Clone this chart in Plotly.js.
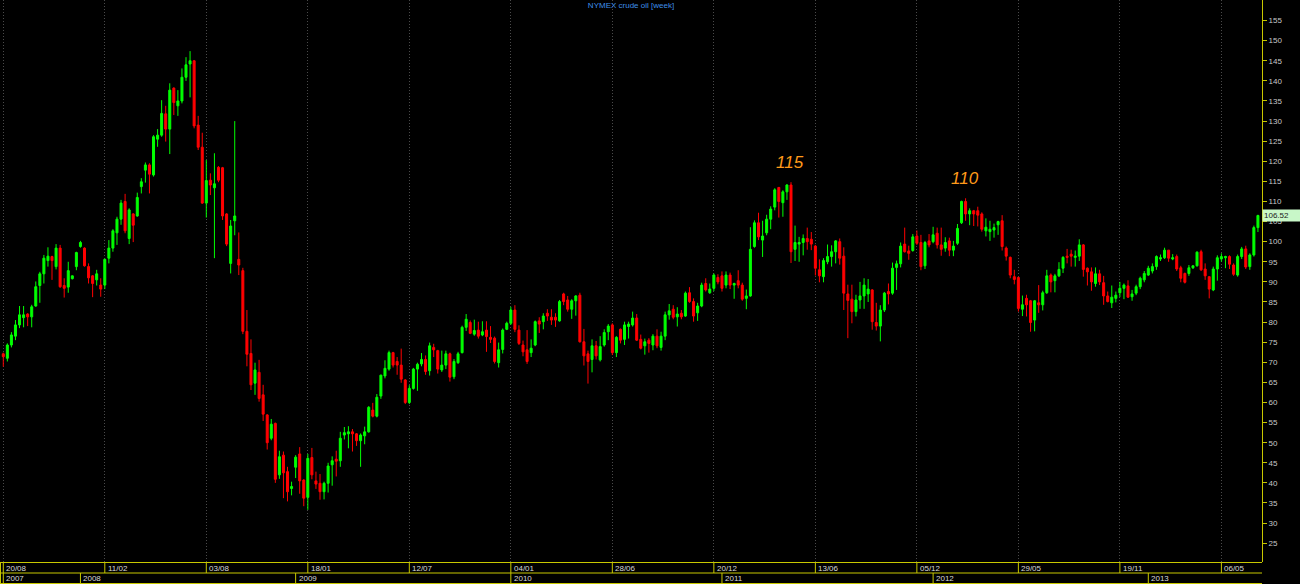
<!DOCTYPE html>
<html>
<head>
<meta charset="utf-8">
<script src="https://cdn.plot.ly/plotly-3.0.1.min.js"></script>
<style>
html,body{margin:0;padding:0;background:#000;}
#chart{width:1300px;height:584px;}
</style>
</head>
<body>
<div id="chart"></div>
<script>
// Weekly NYMEX crude oil bars, bar 0 = week of 20/08/2007
var openP = [72.1,71.0,74.3,76.5,79.3,81.1,82.0,81.3,84.0,89.1,92.0,95.3,96.3,93.8,98.4,89.1,88.7,90.8,93.8,98.8,
98.4,93.8,91.5,90.5,89.2,89.2,95.9,98.4,102.2,105.6,110.0,100.8,106.9,106.4,113.7,117.8,119.1,116.6,125.5,126.5,
131.8,128.0,138.2,133.8,135.0,140.9,144.2,145.0,129.0,123.5,109.6,115.3,113.4,118.5,118.4,106.9,94.6,105.2,95.6,92.8,
77.7,72.2,64.8,67.5,61.9,56.9,51.1,54.8,42.0,46.9,42.8,38.6,43.9,47.2,40.7,36.4,46.3,40.5,39.9,37.8,
39.9,44.5,45.9,45.5,51.9,52.2,52.7,52.2,50.5,51.7,52.7,58.1,56.6,61.6,66.6,68.3,72.4,70.2,69.3,65.6,
60.0,63.5,68.3,69.6,70.7,67.9,73.7,72.9,68.1,69.3,72.1,66.4,69.9,72.4,78.7,79.9,77.0,78.0,76.8,78.0,
76.2,76.0,69.9,73.2,78.2,79.7,83.0,78.0,74.3,73.1,72.4,74.3,80.3,80.1,82.2,81.2,81.2,80.3,87.0,85.5,
83.2,85.3,86.7,75.1,72.1,70.7,74.1,70.6,74.3,77.6,79.3,72.4,78.2,75.7,78.9,79.3,81.0,75.7,74.1,75.5,
74.3,76.5,73.7,76.5,81.8,83.2,81.3,82.2,81.5,87.3,85.1,82.3,84.0,89.6,87.3,88.4,91.1,91.5,89.2,91.7,
89.2,90.3,89.2,85.9,86.5,98.8,104.7,100.4,102.2,105.6,108.6,113.5,109.7,112.4,114.1,98.1,99.4,99.8,100.8,100.6,
98.9,93.0,91.3,95.0,96.3,97.5,100.0,96.4,87.0,85.7,82.6,85.5,86.5,87.0,88.0,79.9,79.0,83.0,87.6,87.2,
93.6,94.5,99.4,97.7,97.8,101.4,99.8,94.0,100.2,100.0,102.1,99.2,98.4,100.2,97.9,99.6,104.7,110.0,106.9,107.7,
107.7,106.9,102.7,102.5,102.9,104.2,105.2,98.4,96.1,91.3,91.1,83.2,85.9,85.3,80.5,84.8,84.3,87.3,91.7,90.3,
91.5,93.4,96.4,96.9,96.1,96.4,99.2,93.4,92.5,89.6,92.0,89.8,86.5,84.8,85.9,87.3,88.4,89.0,86.3,87.2,
88.8,90.5,91.7,92.7,93.8,95.7,96.0,97.9,95.7,96.3,93.5,92.1,92.1,93.5,94.0,97.5,93.2,91.3,88.0,93.2,
95.7,96.0,96.3,94.2,91.7,96.3,98.2,93.8,96.7,103.5];
var highP = [72.4,74.7,77.5,80.5,84.0,84.0,82.2,84.3,90.1,92.5,96.7,98.6,96.5,99.4,99.2,90.9,95.0,91.6,97.5,100.2,
98.6,94.6,91.7,93.0,90.9,95.8,100.4,103.1,106.2,110.4,111.9,108.3,107.1,112.2,115.8,119.7,119.5,126.5,128.0,135.2,
133.8,139.4,138.4,137.7,143.1,145.9,147.4,145.2,131.3,127.1,120.3,117.0,122.0,118.8,118.6,107.1,105.4,130.0,102.3,93.5,
83.0,75.7,69.9,70.6,64.4,57.1,55.9,55.0,48.0,47.8,44.0,40.3,46.9,48.9,40.9,47.2,48.7,42.8,42.2,40.3,
45.0,46.6,48.0,52.7,53.9,54.1,53.4,52.4,52.3,54.0,59.1,59.9,62.1,66.9,70.5,72.9,72.6,71.3,73.4,65.8,
64.3,68.6,69.9,72.3,71.7,74.9,74.6,73.1,72.9,72.9,72.4,70.8,72.6,79.1,82.0,80.4,80.6,80.1,80.2,80.2,
79.0,76.4,74.9,78.4,80.1,83.8,84.2,79.2,75.4,78.0,75.7,80.4,81.2,82.2,83.2,83.2,82.2,85.5,87.3,86.5,
85.7,86.7,87.3,78.3,72.9,75.7,75.3,76.5,78.2,79.5,79.7,76.5,78.4,80.1,80.1,82.6,82.0,76.9,75.9,76.0,
77.0,78.2,77.6,82.6,84.5,84.2,83.7,83.0,87.6,88.7,85.9,84.8,89.8,90.9,89.6,92.1,91.9,92.6,92.6,92.3,
89.8,92.9,89.8,88.1,103.6,105.3,107.2,105.2,106.7,108.8,113.3,113.6,112.8,114.3,114.8,104.0,101.2,101.8,103.5,102.4,
99.2,95.6,95.9,99.3,99.1,100.4,100.8,98.6,89.3,89.3,86.8,90.0,90.9,90.7,88.2,84.8,84.2,87.5,89.6,94.8,
95.3,99.8,103.5,99.0,101.9,102.8,101.7,100.2,101.9,103.7,103.5,103.5,101.1,101.0,100.2,104.4,110.2,110.8,108.3,107.9,
108.7,107.3,105.8,105.2,104.5,105.2,106.6,98.8,96.3,93.0,91.3,86.6,86.8,85.5,85.5,89.2,87.8,93.0,92.1,92.0,
94.9,96.4,98.2,98.0,97.8,100.6,99.4,93.6,93.6,93.6,93.0,91.5,87.6,89.1,87.6,90.0,89.6,90.4,88.0,89.3,
91.3,92.7,94.0,94.6,96.6,96.8,98.5,97.9,96.9,96.8,94.0,92.3,94.2,94.1,97.6,98.0,94.6,91.3,93.8,96.6,
97.1,96.5,96.6,94.6,96.8,98.7,99.0,97.1,104.0,106.7];
var lowP = [68.9,70.2,73.7,75.5,78.5,78.7,79.0,78.7,83.8,84.8,89.6,93.8,90.5,93.1,88.5,86.1,87.3,90.6,92.9,98.5,
93.8,89.6,86.2,89.1,86.3,88.2,94.6,97.5,99.2,104.2,102.1,99.4,99.9,106.2,112.0,114.7,112.0,116.2,123.6,126.1,
124.9,121.8,131.5,131.3,134.4,140.0,135.9,128.2,122.8,109.4,106.0,111.6,95.9,114.8,105.4,98.9,92.1,101.6,91.7,77.0,
69.0,63.1,61.9,60.2,55.4,48.3,50.6,40.0,41.0,36.2,35.4,36.9,41.2,37.3,34.2,33.3,40.9,38.5,35.8,35.9,
37.6,39.3,41.6,44.0,50.8,48.6,47.8,49.2,44.0,49.6,52.5,56.3,56.3,60.9,66.0,67.9,68.7,66.9,64.9,59.6,
59.6,63.2,62.9,69.0,66.9,66.7,71.3,67.2,67.6,68.3,65.2,65.8,69.6,72.2,77.8,77.0,76.6,75.9,76.5,72.6,
74.8,69.7,68.7,72.2,78.0,79.3,77.5,74.3,71.5,69.6,71.3,74.0,77.3,78.2,80.3,79.3,78.8,80.1,84.2,82.6,
80.8,81.6,74.9,69.2,64.7,67.5,70.7,70.2,73.9,75.5,71.8,71.3,74.7,74.3,75.9,78.9,75.3,73.2,71.9,72.4,
73.0,73.5,72.9,75.5,80.6,80.7,78.9,80.7,81.3,84.8,80.1,80.3,83.7,87.6,87.0,87.7,89.4,87.6,88.4,88.2,
85.8,88.4,85.3,83.2,86.3,98.5,100.4,96.2,101.6,103.1,107.8,106.0,106.2,110.4,94.7,95.2,95.0,96.6,98.0,97.9,
91.6,89.9,89.9,94.4,93.8,94.6,94.3,83.0,76.0,79.7,81.4,83.3,83.3,85.0,78.1,77.9,75.2,82.5,84.4,86.8,
88.0,93.6,97.3,95.5,97.5,99.2,92.9,93.2,98.6,99.6,98.3,96.5,97.5,96.4,96.4,99.2,104.4,105.2,104.1,103.9,
103.8,102.5,101.3,100.2,101.0,101.7,97.8,95.3,90.9,89.4,82.6,81.5,81.4,77.6,77.7,82.3,82.9,87.0,87.4,87.4,
91.2,92.2,94.6,93.8,93.8,95.2,91.3,89.1,87.8,88.8,89.2,84.3,84.9,83.5,84.9,86.2,85.7,86.0,85.3,86.7,
88.2,89.9,91.5,92.1,93.0,95.2,95.7,95.0,95.4,92.7,89.9,89.6,91.5,93.2,93.8,92.7,90.5,85.9,87.7,90.3,
95.0,93.4,93.2,91.5,91.3,95.7,93.2,93.0,96.3,102.4];
var closeP = [71.4,74.3,76.8,79.3,81.8,81.8,81.3,83.8,88.8,92.0,95.9,96.4,95.3,98.4,88.8,88.4,92.8,91.5,97.3,99.8,
94.0,91.0,89.6,92.0,88.2,95.6,98.4,102.7,105.6,109.6,102.7,107.9,104.1,111.0,114.9,119.1,116.8,126.1,126.5,131.9,
128.0,137.7,134.6,135.0,140.9,144.0,145.0,128.8,123.5,109.6,115.2,114.1,114.4,115.3,106.4,99.4,103.9,106.4,94.2,77.7,
72.0,64.4,68.1,61.0,57.1,50.0,54.6,40.9,46.5,42.5,37.8,39.1,46.4,40.5,36.2,46.1,42.0,39.7,37.8,39.9,
44.2,45.5,45.4,51.1,52.5,52.7,52.2,50.5,51.9,52.7,58.8,56.6,61.3,66.8,68.5,72.4,69.3,69.3,65.8,60.0,
63.5,68.3,69.5,70.7,67.7,74.1,73.1,68.3,69.3,72.1,66.3,70.2,72.1,78.7,80.7,77.2,77.9,76.5,77.6,76.4,
75.7,70.2,73.1,78.0,79.7,83.0,78.2,74.7,72.6,70.2,73.5,80.1,79.5,81.5,81.5,80.5,80.5,85.1,85.1,83.2,
85.3,86.5,75.1,71.6,70.2,74.1,71.6,73.9,77.4,79.0,72.4,76.2,75.5,79.3,79.5,81.0,75.5,73.5,75.1,74.7,
76.5,74.1,76.5,81.8,82.8,81.2,82.0,81.3,87.2,85.1,81.5,84.0,89.2,88.0,88.2,91.7,90.0,88.4,91.7,89.2,
89.6,89.2,85.7,86.5,98.1,104.7,101.2,101.4,105.6,108.1,112.9,110.0,112.4,114.1,97.5,99.8,99.8,100.8,100.0,99.4,
93.4,91.5,95.3,96.3,97.5,100.2,95.9,87.2,85.4,82.6,85.5,86.5,89.2,88.2,80.1,79.0,83.0,87.2,87.0,93.4,
94.5,98.9,97.5,97.1,101.2,99.6,93.8,99.8,99.2,101.7,99.2,98.1,99.8,97.9,98.9,103.3,110.0,106.9,107.7,106.9,
106.6,103.1,103.6,103.1,103.5,105.0,98.8,96.4,91.7,90.6,83.4,84.3,84.3,79.9,85.3,84.3,87.3,91.5,90.0,91.5,
93.1,96.1,96.1,96.4,96.4,99.2,93.1,92.5,90.0,92.0,90.0,86.5,85.1,86.2,86.7,88.4,89.2,86.2,87.0,88.8,
90.9,92.1,93.4,93.8,96.3,96.0,97.9,95.9,96.0,93.2,90.9,89.9,93.5,94.0,97.4,93.0,91.5,88.2,93.2,96.0,
96.3,96.3,94.4,91.9,96.3,98.2,93.7,96.7,103.5,106.52];

// Date labels: every 25th bar, and the first bar of each year
var tickBars = [0,25,50,75,100,125,150,175,200,225,250,275,300];
var tickLabels = ['20/08','11/02','03/08','18/01','12/07','04/01','28/06','20/12','13/06','05/12','29/05','19/11','06/05'];
var yearBars = [0,19,72,125,177,229,282];
var yearLabels = ['2007','2008','2009','2010','2011','2012','2013'];
var priceTicks = [25,30,35,40,45,50,55,60,65,70,75,80,85,90,95,100,105,110,115,120,125,130,135,140,145,150,155];
var peakLabels = ['115','110'];
var peakWindows = [[180,215],[230,250]];

var barIdx = closeP.map(function(_, i){ return i; });
var YEL = '#c8c800';
var FONT = 'Liberation Sans, Arial, sans-serif';

var trace = {
  type: 'candlestick',
  x: barIdx, open: openP, high: highP, low: lowP, close: closeP,
  increasing: {line: {color: '#00ff00', width: 1}, fillcolor: '#00ff00'},
  decreasing: {line: {color: '#ff0000', width: 1}, fillcolor: '#ff0000'},
  whiskerwidth: 0,
  hoverinfo: 'skip',
  showlegend: false
};

var shapes = [];
var annotations = [];
// bottom label boxes
function hline(ypx){
  shapes.push({type:'line', xref:'paper', x0:0, x1:1, yref:'paper', ysizemode:'pixel', yanchor:0, y0:ypx, y1:ypx, line:{color:YEL, width:1}});
}
hline(-0.5); hline(-11); hline(-21.5);
shapes.push({type:'line', xref:'paper', x0:0.0004, x1:0.0004, yref:'paper', ysizemode:'pixel', yanchor:0, y0:0, y1:-22, line:{color:YEL, width:1}});
tickBars.forEach(function(b, k){
  shapes.push({type:'line', xref:'x', x0:b, x1:b, yref:'paper', ysizemode:'pixel', yanchor:0, y0:-0.5, y1:-11, line:{color:YEL, width:1}});
  annotations.push({xref:'x', x:b, xanchor:'left', xshift:1, yref:'paper', y:0, yanchor:'middle', yshift:-6, text:tickLabels[k], showarrow:false, font:{family:FONT, size:8, color:'#d8d8d8'}});
});
yearBars.forEach(function(b, k){
  shapes.push({type:'line', xref:'x', x0:b, x1:b, yref:'paper', ysizemode:'pixel', yanchor:0, y0:-11, y1:-22, line:{color:YEL, width:1}});
  annotations.push({xref:'x', x:b, xanchor:'left', xshift:1, yref:'paper', y:0, yanchor:'middle', yshift:-16.5, text:yearLabels[k], showarrow:false, font:{family:FONT, size:8, color:'#d8d8d8'}});
});
// peak labels
peakWindows.forEach(function(w, k){
  var best = w[0];
  for (var i = w[0]; i <= w[1]; i++) if (highP[i] > highP[best]) best = i;
  annotations.push({xref:'x', x:best, yref:'y', y:highP[best], yanchor:'middle', yshift:20, xshift:-1, text:peakLabels[k], showarrow:false,
    font:{family:FONT, size:17, color:'#ff9a1a', style:'italic'}});
});
// last price box
var last = closeP[closeP.length-1];
annotations.push({xref:'paper', x:1, xanchor:'left', xshift:0, yref:'y', y:last, yanchor:'middle', text:last.toFixed(2), showarrow:false,
  bgcolor:'#c8f7c8', font:{family:FONT, size:8, color:'#202020'}, width:35, height:9, borderpad:1, align:'left'});

var layout = {
  width: 1300, height: 584,
  paper_bgcolor: '#000', plot_bgcolor: '#000',
  margin: {l: 0, r: 38, t: 0, b: 22},
  showlegend: false,
  title: {text: 'NYMEX crude oil [week]', font: {family: FONT, size: 8, color: '#3f8fe8'}, xref: 'paper', x: 0.5, xanchor: 'center', yref: 'container', y: 1 - 5/584, yanchor: 'middle'},
  xaxis: {range: [-0.81, 310.0], tickmode: 'array', tickvals: tickBars, showticklabels: false, ticks: '',
    showgrid: true, gridcolor: '#4a4a4a', griddash: '1px,2px', gridwidth: 1, zeroline: false, showline: false,
    rangeslider: {visible: false}, fixedrange: true},
  yaxis: {side: 'right', range: [20.32, 160.12], tickmode: 'array', tickvals: priceTicks, showgrid: false, zeroline: false,
    showline: true, linecolor: YEL, linewidth: 1, ticks: 'outside', ticklen: 4, tickcolor: YEL, tickwidth: 1,
    tickfont: {family: FONT, size: 8, color: '#c8c8c8'}, fixedrange: true},
  shapes: shapes,
  annotations: annotations,
  boxgap: 0.3
};

Plotly.newPlot('chart', [trace], layout, {displayModeBar: false, staticPlot: true});
</script>
</body>
</html>
